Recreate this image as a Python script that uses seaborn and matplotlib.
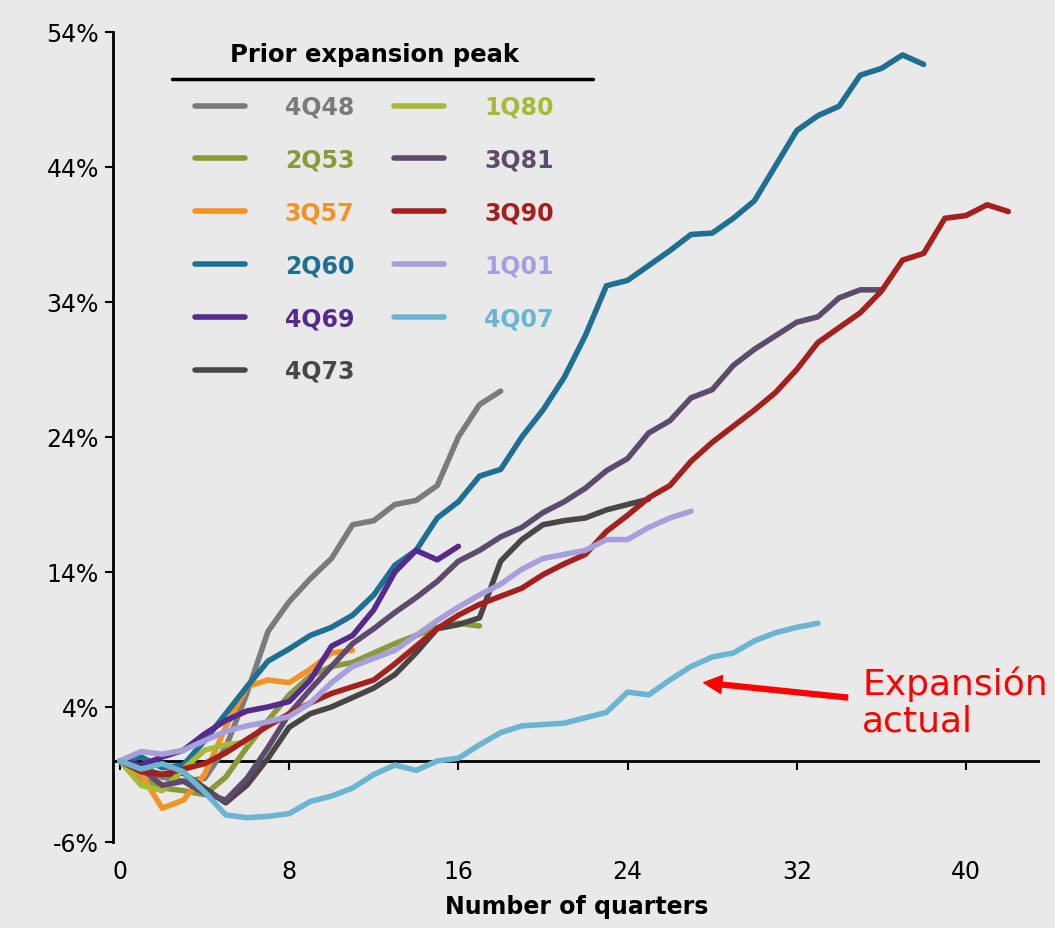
import pandas as pd
import matplotlib
matplotlib.use("Agg")
import matplotlib.pyplot as plt
import seaborn as sns
from matplotlib.lines import Line2D

# cumulative real growth since each prior expansion peak (%), one value per quarter
peaks = ["4Q48", "2Q53", "3Q57", "2Q60", "4Q69", "4Q73",
         "1Q80", "3Q81", "3Q90", "1Q01", "4Q07"]

g_4q48 = [0, -0.5, -1.2, -1.5, -1.3, 1.0, 5.0, 9.6, 11.8, 13.5, 15.0, 17.5,
          17.8, 19.0, 19.3, 20.4, 24.0, 26.4, 27.4]
g_2q53 = [0, -1.3, -2.0, -2.2, -2.5, -1.2, 1.0, 3.0, 4.9, 6.3, 7.0, 7.3,
          8.0, 8.7, 9.3, 9.9, 10.2, 10.0]
g_3q57 = [0, -1.0, -3.5, -2.9, -1.0, 2.5, 5.5, 6.0, 5.8, 6.8, 8.0, 8.2]
g_2q60 = [0, 0.3, -0.5, -0.3, 1.5, 3.5, 5.5, 7.4, 8.3, 9.3, 9.9, 10.8,
          12.3, 14.5, 15.6, 18.0, 19.2, 21.1, 21.6, 24.0, 26.0, 28.4, 31.5,
          35.2, 35.6, 36.7, 37.8, 39.0, 39.1, 40.2, 41.5, 44.1, 46.7, 47.8,
          48.5, 50.8, 51.3, 52.3, 51.6]
g_4q69 = [0, -0.3, 0.3, 0.8, 2.0, 3.0, 3.7, 4.0, 4.4, 6.0, 8.5, 9.3,
          11.2, 14.0, 15.6, 14.9, 15.9]
g_4q73 = [0, -0.6, -1.0, -0.9, -2.0, -3.1, -1.8, 0.2, 2.5, 3.5, 4.0, 4.7,
          5.4, 6.4, 8.0, 9.8, 10.1, 10.6, 14.8, 16.4, 17.5, 17.8, 18.0, 18.6,
          19.0, 19.4]
g_1q80 = [0, -1.8, -2.2, -0.6, 0.8, 1.2, 1.4]
g_3q81 = [0, -0.6, -1.8, -1.5, -2.4, -2.9, -1.3, 1.0, 3.5, 5.3, 7.0, 8.7,
          9.8, 11.0, 12.1, 13.3, 14.8, 15.6, 16.6, 17.3, 18.4, 19.2, 20.2,
          21.5, 22.4, 24.3, 25.2, 26.9, 27.5, 29.3, 30.5, 31.5, 32.5, 32.9,
          34.3, 34.9, 34.9]
g_3q90 = [0, -0.8, -1.0, -0.6, -0.2, 0.6, 1.6, 2.6, 3.5, 4.3, 5.0, 5.5,
          6.0, 7.2, 8.5, 9.8, 10.8, 11.6, 12.2, 12.8, 13.8, 14.6, 15.3, 17.0,
          18.2, 19.5, 20.4, 22.2, 23.6, 24.8, 26.0, 27.3, 29.0, 31.0, 32.1,
          33.2, 34.8, 37.1, 37.6, 40.2, 40.4, 41.2, 40.7]
g_1q01 = [0, 0.7, 0.5, 0.8, 1.5, 2.2, 2.6, 2.9, 3.3, 4.3, 5.8, 7.0, 7.6,
          8.2, 9.3, 10.4, 11.4, 12.3, 13.1, 14.2, 15.0, 15.3, 15.6, 16.4,
          16.4, 17.3, 18.0, 18.5]
g_4q07 = [0, -0.6, -0.2, -0.8, -2.3, -4.0, -4.2, -4.1, -3.9, -3.0, -2.6,
          -2.0, -1.0, -0.3, -0.7, 0.0, 0.2, 1.2, 2.1, 2.6, 2.7, 2.8, 3.2, 3.6,
          5.1, 4.9, 6.0, 7.0, 7.7, 8.0, 8.9, 9.5, 9.9, 10.2]

series = [g_4q48, g_2q53, g_3q57, g_2q60, g_4q69, g_4q73,
          g_1q80, g_3q81, g_3q90, g_1q01, g_4q07]

colors = ["#7b7b7b", "#8a9a3b", "#f39325", "#1d6f93", "#56298c", "#4a4647",
          "#a9b836", "#5e4a6c", "#a4201d", "#a59fdc", "#6ab6d2"]

yticks = [-6, 4, 14, 24, 34, 44, 54]
xticks = [0, 8, 16, 24, 32, 40]

rows = []
for name, vals in zip(peaks, series):
    for q, v in enumerate(vals):
        rows.append({"quarter": q, "growth": v, "peak": name})
df = pd.DataFrame(rows)

sns.set_style("white")
plt.rcParams["font.family"] = ["DejaVu Sans"]
plt.rcParams["text.color"] = "black"
plt.rcParams["axes.labelcolor"] = "black"
plt.rcParams["xtick.color"] = "black"
plt.rcParams["ytick.color"] = "black"
bg = "#e9e9e9"

fig = plt.figure(figsize=(10.55, 9.29), dpi=100, facecolor=bg)
ax = fig.add_axes([0.1071, 0.0926, 0.8787, 0.8719])
ax.set_facecolor(bg)

sns.lineplot(data=df, x="quarter", y="growth", hue="peak", hue_order=peaks,
             palette=dict(zip(peaks, colors)), linewidth=4, sort=False,
             ax=ax, legend=True)

ax.set_xlim(-0.33, 43.5)
ax.set_ylim(-6, 54)

for s in ["top", "right", "bottom"]:
    ax.spines[s].set_visible(False)
ax.spines["left"].set_linewidth(2)
ax.spines["left"].set_color("black")
ax.axhline(0, color="black", lw=2, zorder=1)
ax.vlines(xticks, -0.7, 0, color="black", lw=1.5, zorder=1)

ax.set_yticks(yticks)
ax.set_yticklabels([f"{t}%" for t in yticks])
ax.set_xticks(xticks)
ax.set_xticklabels([str(t) for t in xticks])
ax.tick_params(axis="y", direction="out", length=6, width=1.5, labelsize=17,
               left=True, pad=4)
ax.tick_params(axis="x", length=0, labelsize=17, pad=12)
ax.set_xlabel("Number of quarters", fontsize=17, fontweight="bold", labelpad=8)
ax.set_ylabel("")

# legend in two columns with coloured labels
handles, labels = ax.get_legend_handles_labels()
ax.get_legend().remove()
leg = ax.legend(handles, labels, ncol=2, frameon=False,
                loc="upper left", bbox_to_anchor=(195 / 1055, 1 - 43 / 929),
                bbox_transform=fig.transFigure, borderpad=0, borderaxespad=0,
                prop={"size": 17, "weight": "bold"},
                title="Prior expansion peak",
                title_fontproperties={"size": 17.5, "weight": "bold"},
                handlelength=2.1, handletextpad=1.7, columnspacing=1.7,
                labelspacing=1.22)
leg.get_title().set_color("black")
for txt, c in zip(leg.get_texts(), colors):
    txt.set_color(c)
for h in leg.legend_handles:
    h.set_linewidth(4)
fig.add_artist(Line2D([172 / 1055, 593 / 1055], [1 - 80 / 929, 1 - 80 / 929],
                      color="black", lw=2.5, transform=fig.transFigure))

# annotation for the current expansion
ax.annotate("", xy=(27.6, 5.8), xytext=(34.4, 4.7),
            arrowprops=dict(color="#ff0000", width=3.5, headwidth=13,
                            headlength=13, shrink=0))
ax.text(35.1, 4.4, "Expansión\nactual", color="#ff0000", fontsize=26,
        ha="left", va="center", linespacing=1.1, clip_on=False)

fig.savefig("out.png", dpi=100, facecolor=bg)
